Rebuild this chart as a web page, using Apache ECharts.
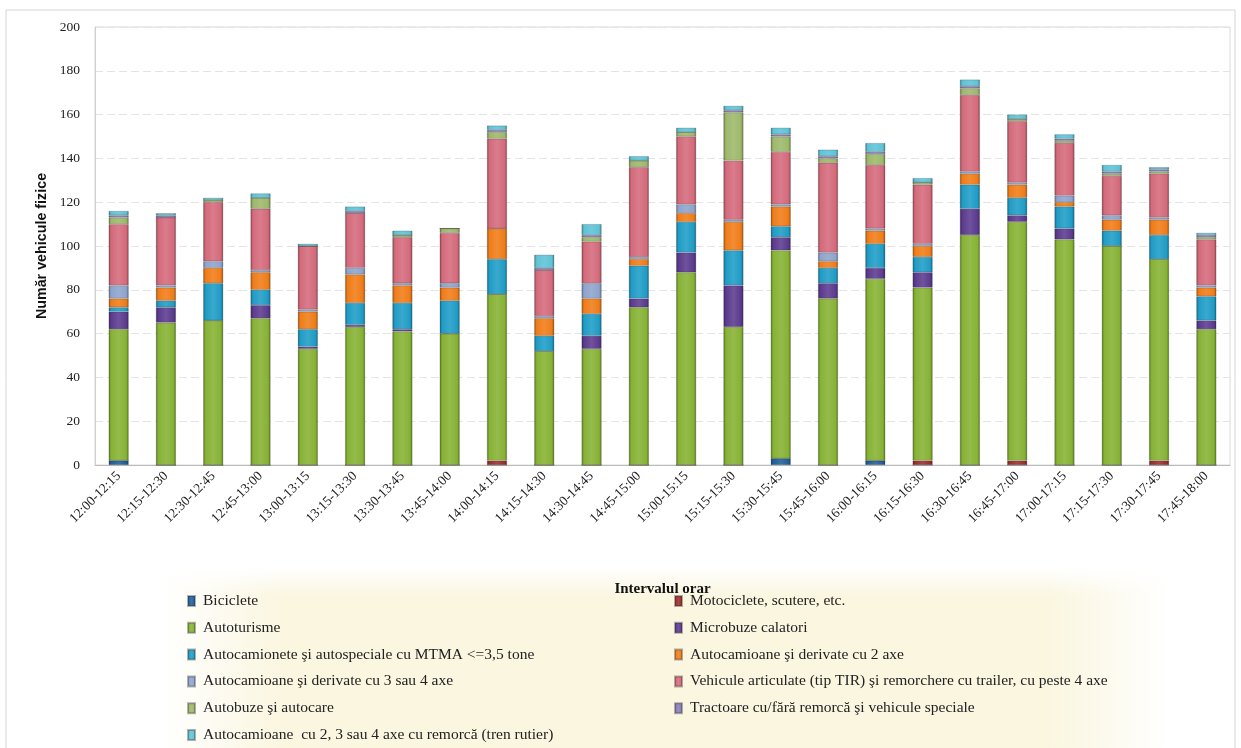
<!DOCTYPE html>
<html>
<head>
<meta charset="utf-8">
<script src="https://cdn.jsdelivr.net/npm/echarts@6/dist/echarts.min.js"></script>
<style>
html,body{margin:0;padding:0;background:#fff;}
#c{width:1241px;height:748px;}
</style>
</head>
<body>
<div id="c"></div>
<script>
const categories = ["12:00-12:15","12:15-12:30","12:30-12:45","12:45-13:00","13:00-13:15","13:15-13:30","13:30-13:45","13:45-14:00","14:00-14:15","14:15-14:30","14:30-14:45","14:45-15:00","15:00-15:15","15:15-15:30","15:30-15:45","15:45-16:00","16:00-16:15","16:15-16:30","16:30-16:45","16:45-17:00","17:00-17:15","17:15-17:30","17:30-17:45","17:45-18:00"];

const biciclete      = [2,0,0,0,0,0,0,0,0,0,0,0,0,0,3,0,2,0,0,0,0,0,0,0];
const motociclete    = [0,0,0,0,0,0,0,0,2,0,0,0,0,0,0,0,0,2,0,2,0,0,2,0];
const autoturisme    = [60,65,66,67,53,63,61,60,76,52,53,72,88,63,95,76,83,79,105,109,103,100,92,62];
const microbuze      = [8,7,0,6,1,1,1,0,0,0,6,4,9,19,6,7,5,7,12,3,5,0,0,4];
const autocamionete  = [2,3,17,7,8,10,12,15,16,7,10,15,14,16,5,7,11,7,11,8,10,7,11,11];
const axe2           = [4,6,7,8,8,13,8,6,14,8,7,3,4,13,9,3,6,5,5,6,2,5,7,4];
const axe34          = [6,1,3,1,1,3,1,2,0,1,7,1,4,1,1,4,1,1,1,1,3,2,1,1];
const articulate     = [28,31,27,28,29,25,21,23,41,21,19,41,31,27,24,41,29,27,35,28,24,18,20,21];
const autobuze       = [3,0,1,5,0,0,1,2,3,0,2,3,2,22,7,2,5,1,3,1,1,1,1,1];
const tractoare      = [1,1,0,0,0,1,0,0,1,1,1,0,0,1,1,1,1,0,1,0,1,1,1,1];
const remorca        = [2,1,1,2,1,2,2,0,2,6,5,2,2,2,3,3,4,2,3,2,2,3,1,1];

const yTicks = [0,20,40,60,80,100,120,140,160,180,200];

const seriesDefs = [
  ["Biciclete", biciclete, "#1f5f9a"],
  ["Motociclete, scutere, etc.", motociclete, "#9b2d2a"],
  ["Autoturisme", autoturisme, "#86b234"],
  ["Microbuze calatori", microbuze, "#5b3a8f"],
  ["Autocamionete şi autospeciale cu MTMA <=3,5 tone", autocamionete, "#1f9cc6"],
  ["Autocamioane şi derivate cu 2 axe", axe2, "#f07c18"],
  ["Autocamioane şi derivate cu 3 sau 4 axe", axe34, "#8ea4cc"],
  ["Vehicule articulate (tip TIR) şi remorchere cu trailer, cu peste 4 axe", articulate, "#d46a7b"],
  ["Autobuze şi autocare", autobuze, "#9db86a"],
  ["Tractoare cu/fără remorcă şi vehicule speciale", tractoare, "#8a7cb8"],
  ["Autocamioane  cu 2, 3 sau 4 axe cu remorcă (tren rutier)", remorca, "#5ec3d6"]
];

function shade(hex, f) {
  const n = parseInt(hex.slice(1), 16);
  let r = (n >> 16) & 255, g = (n >> 8) & 255, b = n & 255;
  if (f < 0) { r = r * (1 + f); g = g * (1 + f); b = b * (1 + f); }
  else { r = r + (255 - r) * f; g = g + (255 - g) * f; b = b + (255 - b) * f; }
  return "rgb(" + Math.round(r) + "," + Math.round(g) + "," + Math.round(b) + ")";
}
function grad(hex) {
  return new echarts.graphic.LinearGradient(0, 0, 1, 0, [
    {offset: 0, color: shade(hex, -0.35)},
    {offset: 0.12, color: hex},
    {offset: 0.5, color: shade(hex, 0.12)},
    {offset: 0.88, color: hex},
    {offset: 1, color: shade(hex, -0.35)}
  ]);
}

const fontSerif = "'Liberation Serif', 'DejaVu Serif', serif";

const series = seriesDefs.map(d => ({
  name: d[0],
  type: "bar",
  stack: "total",
  data: d[1],
  barWidth: 20,
  color: d[2],
  itemStyle: { color: grad(d[2]), borderColor: "rgba(40,40,40,0.35)", borderWidth: 0.6 },
  emphasis: { disabled: true }
}));

// one legend per entry, laid out in two columns, row-major like the original
const legends = seriesDefs.map((d, i) => ({
  orient: "horizontal",
  left: (i % 2 === 0) ? 187 : 674,
  top: 593 + Math.floor(i / 2) * 26.8,
  padding: 0,
  itemWidth: 7,
  itemHeight: 10,
  icon: "rect",
  data: [d[0]],
  textStyle: { fontFamily: fontSerif, fontSize: 15.5, lineHeight: 15, color: "#222", padding: [0,0,0,3] },
  selectedMode: false
}));

const chart = echarts.init(document.getElementById("c"), null, {renderer: "canvas"});
chart.setOption({
  backgroundColor: "#ffffff",
  animation: false,
  graphic: [
    { type: "rect", silent: true, z: -10, shape: { x: 6, y: 10, width: 1229, height: 745 },
      style: { fill: "none", stroke: "#d6d6d6", lineWidth: 1 } },
    { type: "rect", silent: true, z: -9, shape: { x: 160, y: 568, width: 1010, height: 180 },
      style: { fill: new echarts.graphic.LinearGradient(0, 0, 1, 0, [
        {offset: 0, color: "rgba(250,246,224,0)"},
        {offset: 0.12, color: "rgba(250,246,224,1)"},
        {offset: 0.88, color: "rgba(250,246,224,1)"},
        {offset: 1, color: "rgba(250,246,224,0)"}]) } },
    { type: "rect", silent: true, z: -8, shape: { x: 160, y: 568, width: 1010, height: 28 },
      style: { fill: new echarts.graphic.LinearGradient(0, 0, 0, 1, [
        {offset: 0, color: "rgba(255,255,255,1)"},
        {offset: 1, color: "rgba(255,255,255,0)"}]) } }
  ],
  grid: { left: 95, right: 11, top: 27, bottom: 283, show: true, borderColor: "#d9d9d9", borderWidth: 1 },
  legend: legends,
  xAxis: {
    type: "category",
    data: categories,
    name: "Intervalul orar",
    nameLocation: "middle",
    nameGap: 117,
    nameTextStyle: { fontFamily: fontSerif, fontSize: 15, color: "#111", fontWeight: "bold" },
    axisLine: { lineStyle: { color: "#bbbbbb" } },
    axisTick: { show: false },
    axisLabel: { rotate: 45, interval: 0, fontFamily: fontSerif, fontSize: 13.5, color: "#222", margin: 9 }
  },
  yAxis: {
    type: "value",
    min: yTicks[0],
    max: yTicks[yTicks.length - 1],
    interval: yTicks[1] - yTicks[0],
    name: "Număr vehicule fizice",
    nameLocation: "middle",
    nameGap: 46,
    nameTextStyle: { fontFamily: "'Liberation Sans', Arial, sans-serif", fontSize: 14.3, fontWeight: "bold", color: "#111" },
    axisLine: { show: true, lineStyle: { color: "#d0d0d0" } },
    axisTick: { show: false },
    axisLabel: { fontFamily: fontSerif, fontSize: 13.5, color: "#222", margin: 15 },
    splitLine: { show: true, lineStyle: { color: "#e4e4e4", type: [8, 4] } }
  },
  series: series
});
</script>
</body>
</html>
